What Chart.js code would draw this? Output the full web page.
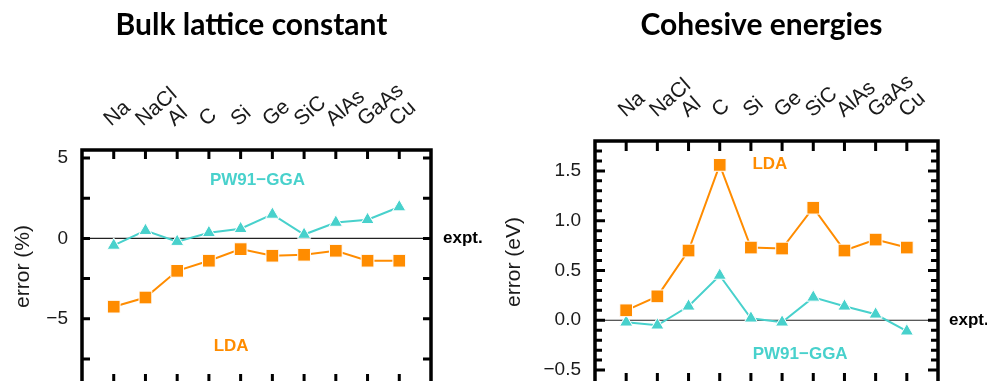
<!DOCTYPE html>
<html>
<head>
<meta charset="utf-8">
<script src="https://cdn.jsdelivr.net/npm/chart.js@4/dist/chart.umd.min.js"></script>
<style>
  html, body { margin: 0; padding: 0; background: #fff; width: 987px; height: 381px; overflow: hidden; }
  canvas { position: absolute; top: 0; }
  #c1 { left: 0px; }
  #c2 { left: 493px; }
</style>
</head>
<body>
<canvas id="c1" width="493" height="383"></canvas>
<canvas id="c2" width="494" height="383"></canvas>
<script>
// ---- data ----
const categories = ['Na', 'NaCl', 'Al', 'C', 'Si', 'Ge', 'SiC', 'AlAs', 'GaAs', 'Cu'];
const latticeLDA = [-4.25, -3.68, -2.02, -1.39, -0.67, -1.08, -1.02, -0.77, -1.39, -1.39];
const latticeGGA = [-0.44, 0.48, -0.20, 0.35, 0.60, 1.49, 0.24, 0.99, 1.16, 1.95];
const cohesiveLDA = [0.10, 0.24, 0.70, 1.56, 0.73, 0.72, 1.13, 0.70, 0.81, 0.73];
const cohesiveGGA = [-0.02, -0.05, 0.14, 0.45, 0.02, -0.02, 0.23, 0.14, 0.06, -0.11];
const latticeTickLabels = [5, 0, -5];
const cohesiveTickLabels = [1.5, 1.0, 0.5, 0.0, -0.5];

const ORANGE = '#FF8C00';
const TURQ = '#48D1CC';
const TXT = '#1a1a1a';
const SANS = "'Liberation Sans', Arial, Helvetica, sans-serif";

function toPoints(vals) { return vals.map((v, i) => ({ x: i + 1, y: v })); }
function fmtNum(v, dec) {
  const s = Math.abs(v).toFixed(dec);
  return (v < -1e-9 ? '\u2212' : '') + s;
}

const framePlugin = {
  id: 'frame',
  beforeDatasetsDraw(chart, args, o) {
    const { ctx, chartArea: a, scales: { y } } = chart;
    const y0 = y.getPixelForValue(0);
    ctx.save();
    ctx.strokeStyle = '#222';
    ctx.lineWidth = 1.2;
    ctx.beginPath(); ctx.moveTo(a.left, y0); ctx.lineTo(a.right, y0); ctx.stroke();
    ctx.restore();
  },
  afterDraw(chart, args, o) {
    const { ctx, chartArea: a, scales: { x, y } } = chart;
    ctx.save();
    // ticks
    ctx.strokeStyle = '#000';
    ctx.lineWidth = 3;
    ctx.beginPath();
    x.ticks.forEach(t => {
      if (t.value < 1 || t.value > categories.length) return;
      const px = x.getPixelForValue(t.value);
      ctx.moveTo(px, a.top); ctx.lineTo(px, a.top + o.xTick);
      ctx.moveTo(px, a.bottom); ctx.lineTo(px, a.bottom - o.xTick);
    });
    y.ticks.forEach(t => {
      const py = y.getPixelForValue(t.value);
      if (py < a.top + 3 || py > a.bottom - 3) return;
      const r = t.value / o.majorStep;
      const major = Math.abs(r - Math.round(r)) < 1e-6;
      const len = major ? o.yMajor : o.yMinor;
      ctx.moveTo(a.left, py); ctx.lineTo(a.left + len, py);
      ctx.moveTo(a.right, py); ctx.lineTo(a.right - len, py);
    });
    ctx.stroke();
    // frame
    ctx.lineWidth = 3.5;
    ctx.strokeRect(a.left, a.top, a.right - a.left, a.bottom - a.top);
    // annotations
    ctx.textBaseline = 'middle';
    ctx.textAlign = 'center';
    ctx.font = 'bold 17px ' + SANS;
    o.notes.forEach(n => {
      ctx.fillStyle = n.color;
      ctx.fillText(n.text, x.getPixelForValue(n.x), y.getPixelForValue(n.y));
    });
    ctx.fillStyle = '#000';
    ctx.textAlign = 'left';
    ctx.fillText('expt.', a.right + o.exptGap, y.getPixelForValue(0));
    // title
    ctx.font = 'bold ' + o.titleSize + "px Lato, 'Open Sans', sans-serif";
    ctx.textAlign = 'center';
    ctx.fillText(o.title, (a.left + a.right) / 2 + o.titleShift, o.titleY);
    ctx.restore();
  }
};

function makeChart(id, cfg) {
  return new Chart(document.getElementById(id), {
    type: 'line',
    data: {
      datasets: [
        {
          data: toPoints(cfg.lda), borderColor: ORANGE, backgroundColor: ORANGE,
          borderWidth: 2, pointStyle: 'rect', pointRadius: 9,
          pointBorderColor: '#fff', pointBorderWidth: 1, pointBackgroundColor: ORANGE, tension: 0
        },
        {
          data: toPoints(cfg.gga), borderColor: TURQ, backgroundColor: TURQ,
          borderWidth: 2, pointStyle: 'triangle', pointRadius: 7.6,
          pointBorderColor: '#fff', pointBorderWidth: 1, pointBackgroundColor: TURQ, tension: 0
        }
      ]
    },
    options: {
      responsive: false,
      animation: false,
      events: [],
      layout: { autoPadding: false, padding: { left: 0, top: 0, bottom: 0, right: cfg.rightPad } },
      plugins: {
        legend: { display: false },
        tooltip: { enabled: false },
        frame: cfg.frame
      },
      scales: {
        x: {
          type: 'linear', position: 'top', min: 0, max: categories.length + 1,
          afterFit: s => { s.height = cfg.top; s.paddingLeft = 0; s.paddingRight = 0; },
          grid: { display: false, drawTicks: false },
          border: { display: false },
          ticks: {
            stepSize: 1, autoSkip: false, minRotation: 41, maxRotation: 41,
            padding: 18, labelOffset: cfg.labelOffset,
            font: { family: SANS, size: 21 }, color: TXT,
            callback: v => categories[v - 1] ?? ''
          }
        },
        y: {
          type: 'linear', min: cfg.ymin, max: cfg.ymax,
          afterFit: s => { s.width = cfg.leftW; s.paddingTop = 0; s.paddingBottom = 0; },
          grid: { display: false, drawTicks: false },
          border: { display: false },
          ticks: {
            stepSize: cfg.step, autoSkip: false, includeBounds: false, maxTicksLimit: 200,
            padding: 14, font: { family: SANS, size: 19 }, color: TXT,
            callback: v => cfg.labels.some(l => Math.abs(l - v) < 1e-6) ? fmtNum(v, cfg.dec) : ''
          },
          title: {
            display: true, text: cfg.ytitle, color: TXT,
            font: { family: SANS, size: 21 }, padding: { top: cfg.titlePad, bottom: 0 }
          }
        }
      }
    },
    plugins: [framePlugin]
  });
}

makeChart('c1', {
  lda: latticeLDA, gga: latticeGGA,
  top: 150, leftW: 82, rightPad: 62, labelOffset: 10,
  ymin: -9, ymax: 5.5, step: 2.5, labels: latticeTickLabels, dec: 0,
  ytitle: 'error (%)', titlePad: 11,
  frame: {
    title: 'Bulk lattice constant', titleSize: 30, titleShift: -5, titleY: 25,
    xTick: 9, yMajor: 8, yMinor: 8, majorStep: 2.5, exptGap: 12,
    notes: [
      { text: 'PW91\u2212GGA', x: 5.53, y: 3.59, color: TURQ },
      { text: 'LDA', x: 4.70, y: -6.7, color: ORANGE }
    ]
  }
});

makeChart('c2', {
  lda: cohesiveLDA, gga: cohesiveGGA,
  top: 141, leftW: 102, rightPad: 49, labelOffset: 12,
  ymin: -0.63, ymax: 1.8, step: 0.1, labels: cohesiveTickLabels, dec: 1,
  ytitle: 'error (eV)', titlePad: 9,
  frame: {
    title: 'Cohesive energies', titleSize: 30, titleShift: -5, titleY: 25,
    xTick: 10, yMajor: 10, yMinor: 7, majorStep: 0.5, exptGap: 11,
    notes: [
      { text: 'LDA', x: 5.61, y: 1.566, color: ORANGE },
      { text: 'PW91\u2212GGA', x: 6.58, y: -0.345, color: TURQ }
    ]
  }
});
</script>
</body>
</html>
